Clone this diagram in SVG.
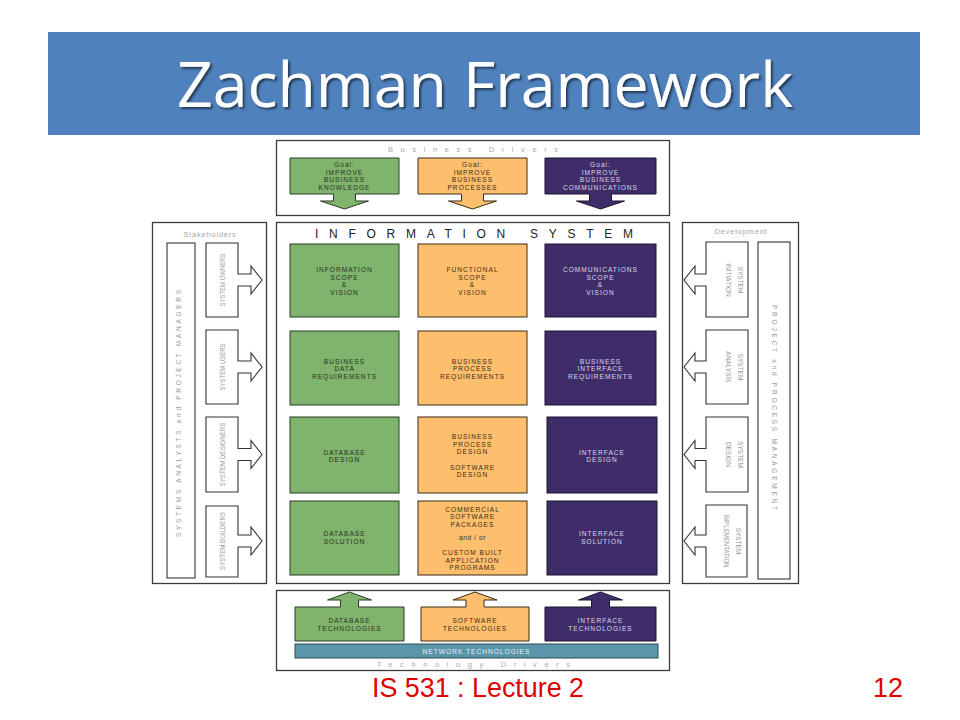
<svg xmlns="http://www.w3.org/2000/svg" width="960" height="720" viewBox="0 0 960 720">
<defs>
<filter id="sh" x="-5%" y="-20%" width="110%" height="140%">
<feDropShadow dx="2" dy="2" stdDeviation="1.2" flood-color="#000" flood-opacity="0.55"/>
</filter>
<style>
.frame{fill:#fff;stroke:#3c3c3c;stroke-width:1.3}
.wbox{fill:#fff;stroke:#333;stroke-width:1.1}
.g{fill:#80B46C;stroke:#2d3a28;stroke-width:1}
.o{fill:#FDBF6E;stroke:#3a2a15;stroke-width:1}
.p{fill:#3F2D6A;stroke:#1e1530;stroke-width:1}
.n{fill:#5A96AA;stroke:#2f4a55;stroke-width:1}
.lbl{font-family:"Liberation Sans",Arial,Helvetica,sans-serif;font-size:6.6px;letter-spacing:1px;text-anchor:middle}
.tg{fill:#26301f}
.to{fill:#3d2a10}
.tp{fill:#ddd6ee}
.gray{font-family:"Liberation Sans",Arial,Helvetica,sans-serif;fill:#a8a8a8}
.vt{font-family:"Liberation Sans",Arial,Helvetica,sans-serif;fill:#9a9a9a;text-anchor:middle}
</style>
</defs>
<rect width="960" height="720" fill="#fff"/>

<!-- Title -->
<g id="title">
<rect x="48" y="32" width="872" height="103" fill="#4F81BD"/>
<text x="177" y="107" font-family="'Open Sans','Noto Sans',sans-serif" font-size="62" fill="#fff" textLength="616" lengthAdjust="spacingAndGlyphs" filter="url(#sh)">Zachman Framework</text>
</g>

<!-- Business drivers -->
<g id="business-drivers">
<rect class="frame" x="276.5" y="140.5" width="393" height="75"/>
<text class="gray" x="388" y="151.5" font-size="7.5" textLength="170" lengthAdjust="spacing">Business Drivers</text>
</g>
<g id="goal-knowledge">
<path class="g" d="M290,158 H399 V194 H355.5 V201 H368.5 L344.5,209 L320.5,201 H333.5 V194 H290 Z"/>
<text class="lbl tg"><tspan x="344.5" y="167">Goal:</tspan><tspan x="344.5" y="174.5">IMPROVE</tspan><tspan x="344.5" y="182">BUSINESS</tspan><tspan x="344.5" y="189.5">KNOWLEDGE</tspan></text>
</g>
<g id="goal-processes">
<path class="o" d="M418,158 H527 V194 H483.5 V201 H496.5 L472.5,209 L448.5,201 H461.5 V194 H418 Z"/>
<text class="lbl to"><tspan x="472.5" y="167">Goal:</tspan><tspan x="472.5" y="174.5">IMPROVE</tspan><tspan x="472.5" y="182">BUSINESS</tspan><tspan x="472.5" y="189.5">PROCESSES</tspan></text>
</g>
<g id="goal-communications">
<path class="p" d="M545,158 H656 V194 H611.5 V201 H624.5 L600.5,209 L576.5,201 H589.5 V194 H545 Z"/>
<text class="lbl tp"><tspan x="600.5" y="167">Goal:</tspan><tspan x="600.5" y="174.5">IMPROVE</tspan><tspan x="600.5" y="182">BUSINESS</tspan><tspan x="600.5" y="189.5">COMMUNICATIONS</tspan></text>
</g>

<!-- Information system -->
<g id="information-system">
<rect class="frame" x="276.5" y="222.5" width="393" height="361"/>
<text x="315" y="238" font-family="'Liberation Sans',Arial,sans-serif" font-size="12" fill="#222" textLength="318" lengthAdjust="spacing">INFORMATION SYSTEM</text>
</g>
<g id="info-scope">
<rect class="g" x="290" y="244" width="109" height="73"/>
<text class="lbl tg"><tspan x="344.5" y="272">INFORMATION</tspan><tspan x="344.5" y="279.5">SCOPE</tspan><tspan x="344.5" y="287">&amp;</tspan><tspan x="344.5" y="294.5">VISION</tspan></text>
</g>
<g id="functional-scope">
<rect class="o" x="418" y="244" width="109" height="73"/>
<text class="lbl to"><tspan x="472.5" y="272">FUNCTIONAL</tspan><tspan x="472.5" y="279.5">SCOPE</tspan><tspan x="472.5" y="287">&amp;</tspan><tspan x="472.5" y="294.5">VISION</tspan></text>
</g>
<g id="comm-scope">
<rect class="p" x="545" y="244" width="111" height="73"/>
<text class="lbl tp"><tspan x="600.5" y="272">COMMUNICATIONS</tspan><tspan x="600.5" y="279.5">SCOPE</tspan><tspan x="600.5" y="287">&amp;</tspan><tspan x="600.5" y="294.5">VISION</tspan></text>
</g>
<g id="business-data">
<rect class="g" x="290" y="331" width="109" height="74"/>
<text class="lbl tg"><tspan x="344.5" y="363.5">BUSINESS</tspan><tspan x="344.5" y="371">DATA</tspan><tspan x="344.5" y="378.5">REQUIREMENTS</tspan></text>
</g>
<g id="business-process">
<rect class="o" x="418" y="331" width="109" height="74"/>
<text class="lbl to"><tspan x="472.5" y="363.5">BUSINESS</tspan><tspan x="472.5" y="371">PROCESS</tspan><tspan x="472.5" y="378.5">REQUIREMENTS</tspan></text>
</g>
<g id="business-interface">
<rect class="p" x="545" y="331" width="111" height="74"/>
<text class="lbl tp"><tspan x="600.5" y="363.5">BUSINESS</tspan><tspan x="600.5" y="371">INTERFACE</tspan><tspan x="600.5" y="378.5">REQUIREMENTS</tspan></text>
</g>
<g id="database-design">
<rect class="g" x="290" y="417" width="109" height="76"/>
<text class="lbl tg"><tspan x="344.5" y="454.5">DATABASE</tspan><tspan x="344.5" y="462">DESIGN</tspan></text>
</g>
<g id="process-software-design">
<rect class="o" x="418" y="417" width="109" height="76"/>
<text class="lbl to"><tspan x="472.5" y="439">BUSINESS</tspan><tspan x="472.5" y="446.7">PROCESS</tspan><tspan x="472.5" y="454.4">DESIGN</tspan><tspan x="472.5" y="469.5">SOFTWARE</tspan><tspan x="472.5" y="477.2">DESIGN</tspan></text>
</g>
<g id="interface-design">
<rect class="p" x="547" y="417" width="110" height="76"/>
<text class="lbl tp"><tspan x="602" y="454.5">INTERFACE</tspan><tspan x="602" y="462">DESIGN</tspan></text>
</g>
<g id="database-solution">
<rect class="g" x="290" y="501" width="109" height="74"/>
<text class="lbl tg"><tspan x="344.5" y="536">DATABASE</tspan><tspan x="344.5" y="544">SOLUTION</tspan></text>
</g>
<g id="software-packages">
<rect class="o" x="418" y="501" width="109" height="74"/>
<text class="lbl to"><tspan x="472.5" y="511.5">COMMERCIAL</tspan><tspan x="472.5" y="519">SOFTWARE</tspan><tspan x="472.5" y="526.5">PACKAGES</tspan><tspan x="472.5" y="540" letter-spacing="0.6">and / or</tspan><tspan x="472.5" y="555">CUSTOM BUILT</tspan><tspan x="472.5" y="562.5">APPLICATION</tspan><tspan x="472.5" y="570">PROGRAMS</tspan></text>
</g>
<g id="interface-solution">
<rect class="p" x="547" y="501" width="110" height="74"/>
<text class="lbl tp"><tspan x="602" y="536">INTERFACE</tspan><tspan x="602" y="544">SOLUTION</tspan></text>
</g>

<!-- Stakeholders -->
<g id="stakeholders">
<rect class="frame" x="152.5" y="222.5" width="114" height="361"/>
<text class="gray" x="210" y="236.5" font-size="7.5" letter-spacing="0.8" text-anchor="middle">Stakeholders</text>
<rect class="wbox" x="167" y="243" width="28" height="335"/>
<text class="vt" transform="translate(179,413.5) rotate(-90)" y="2.2" font-size="6.5" textLength="247" lengthAdjust="spacing">SYSTEMS ANALYSTS and PROJECT MANAGERS</text>
</g>
<g id="system-owners">
<path class="wbox" d="M206,243 H238 V274 H251 V266 L262,280 L251,294 V286 H238 V317 H206 Z"/>
<text class="vt" transform="translate(222,280) rotate(-90)" y="2.5" font-size="7.5" textLength="53" lengthAdjust="spacingAndGlyphs">SYSTEM OWNERS</text>
</g>
<g id="system-users">
<path class="wbox" d="M206,330 H238 V361 H251 V353 L262,367 L251,381 V373 H238 V404 H206 Z"/>
<text class="vt" transform="translate(222,367) rotate(-90)" y="2.5" font-size="7.5" textLength="47" lengthAdjust="spacingAndGlyphs">SYSTEM USERS</text>
</g>
<g id="system-designers">
<path class="wbox" d="M206,417 H238 V448.5 H251 V440.5 L262,454.5 L251,468.5 V460.5 H238 V492 H206 Z"/>
<text class="vt" transform="translate(222,454.5) rotate(-90)" y="2.5" font-size="7.5" textLength="64" lengthAdjust="spacingAndGlyphs">SYSTEM DESIGNERS</text>
</g>
<g id="system-builders">
<path class="wbox" d="M206,506 H238 V535 H251 V527 L262,541 L251,555 V547 H238 V577 H206 Z"/>
<text class="vt" transform="translate(222,541) rotate(-90)" y="2.5" font-size="7.5" textLength="58" lengthAdjust="spacingAndGlyphs">SYSTEM BUILDERS</text>
</g>

<!-- Development -->
<g id="development">
<rect class="frame" x="682.5" y="222.5" width="116" height="361"/>
<text class="gray" x="741" y="233.5" font-size="7.5" letter-spacing="0.8" text-anchor="middle">Development</text>
<rect class="wbox" x="758" y="242" width="32" height="337"/>
<text class="vt" transform="translate(774,407.5) rotate(90)" y="2.2" font-size="6.5" textLength="205" lengthAdjust="spacing">PROJECT and PROCESS MANAGEMENT</text>
</g>
<g id="system-initiation">
<path class="wbox" d="M706,242 H748 V317 H706 V286 H695 V294 L684,280 L695,266 V274 H706 Z"/>
<text class="vt" transform="translate(727,280) rotate(90)" font-size="6.5"><tspan x="0" y="-10.5">SYSTEM</tspan><tspan x="0" y="1.5">INITIATION</tspan></text>
</g>
<g id="system-analysis">
<path class="wbox" d="M706,330 H748 V404 H706 V373 H695 V381 L684,367 L695,353 V361 H706 Z"/>
<text class="vt" transform="translate(727,367) rotate(90)" font-size="6.5"><tspan x="0" y="-10.5">SYSTEM</tspan><tspan x="0" y="1.5">ANALYSIS</tspan></text>
</g>
<g id="system-design">
<path class="wbox" d="M706,417 H748 V492 H706 V460.5 H695 V468.5 L684,454.5 L695,440.5 V448.5 H706 Z"/>
<text class="vt" transform="translate(727,454.5) rotate(90)" font-size="6.5"><tspan x="0" y="-10.5">SYSTEM</tspan><tspan x="0" y="1.5">DESIGN</tspan></text>
</g>
<g id="system-implementation">
<path class="wbox" d="M706,505 H747 V577 H706 V547 H695 V555 L684,541 L695,527 V535 H706 Z"/>
<text class="vt" transform="translate(726,541) rotate(90)" font-size="6.5"><tspan x="0" y="-10">SYSTEM</tspan><tspan x="0" y="2" textLength="53" lengthAdjust="spacingAndGlyphs">IMPLEMENTATION</tspan></text>
</g>

<!-- Technology drivers -->
<g id="technology-drivers">
<rect class="frame" x="276.5" y="590.5" width="393" height="80"/>
<text class="gray" x="377" y="667" font-size="7.5" textLength="193" lengthAdjust="spacing">Technology Drivers</text>
</g>
<g id="database-tech">
<path class="g" d="M295,607 H340.5 V600 H327.5 L349.5,592 L371.5,600 H358.5 V607 H404 V641 H295 Z"/>
<text class="lbl tg"><tspan x="349.5" y="623">DATABASE</tspan><tspan x="349.5" y="630.5">TECHNOLOGIES</tspan></text>
</g>
<g id="software-tech">
<path class="o" d="M421,607 H466 V600 H453 L475,592 L497,600 H484 V607 H529 V641 H421 Z"/>
<text class="lbl to"><tspan x="475" y="623">SOFTWARE</tspan><tspan x="475" y="630.5">TECHNOLOGIES</tspan></text>
</g>
<g id="interface-tech">
<path class="p" d="M545,607 H591.5 V600 H578.5 L600.5,592 L622.5,600 H609.5 V607 H656 V641 H545 Z"/>
<text class="lbl tp"><tspan x="600.5" y="623">INTERFACE</tspan><tspan x="600.5" y="630.5">TECHNOLOGIES</tspan></text>
</g>
<g id="network-tech">
<rect class="n" x="295" y="644" width="363" height="14"/>
<text class="lbl" fill="#e8f0f4" x="476.5" y="654">NETWORK TECHNOLOGIES</text>
</g>

<g id="connectors"></g>

<!-- Footer -->
<g id="footer">
<text x="372" y="697" font-family="'Liberation Sans',Arial,sans-serif" font-size="27" fill="#E00000" textLength="212" lengthAdjust="spacingAndGlyphs">IS 531 : Lecture 2</text>
<text x="903" y="697" font-family="'Liberation Sans',Arial,sans-serif" font-size="27" fill="#E00000" text-anchor="end">12</text>
</g>
</svg>
